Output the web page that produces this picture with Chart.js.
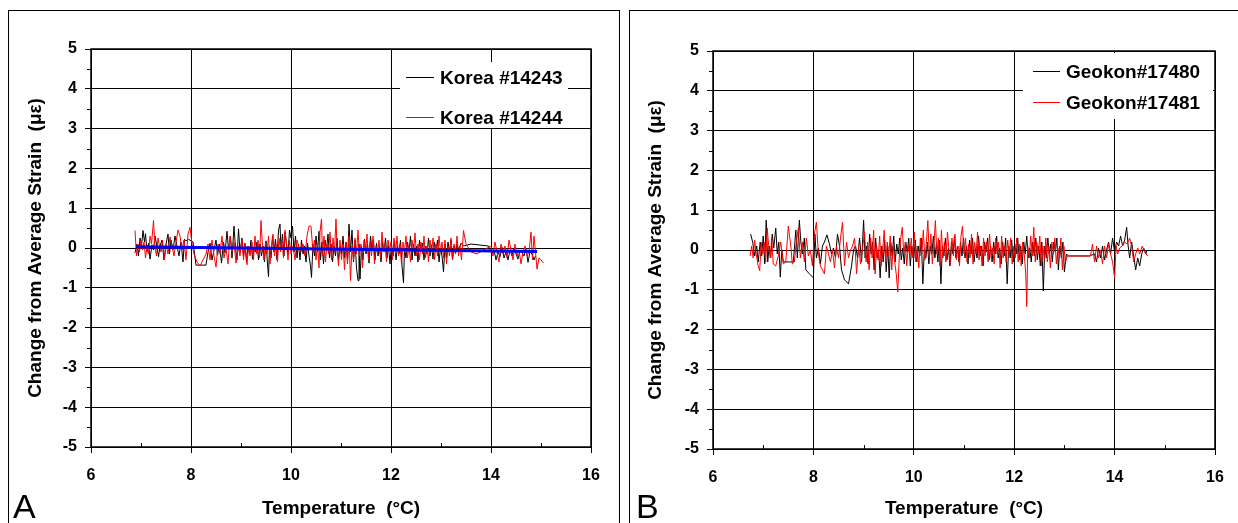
<!DOCTYPE html>
<html>
<head>
<meta charset="utf-8">
<script src="https://cdn.jsdelivr.net/npm/chart.js@4.4.1/dist/chart.umd.min.js"></script>
<style>
  html, body { margin: 0; padding: 0; background: #fff; }
  body { width: 1238px; height: 523px; position: relative; overflow: hidden; font-family: "Liberation Sans", Arial, sans-serif; }
  .panel { position: absolute; top: 10px; height: 530px; border: 1px solid #000; box-sizing: border-box; }
  #panelA { left: 8px; width: 612px; }
  #panelB { left: 629px; width: 612px; }
  .wrap { position: absolute; top: 0; height: 523px; }
  #wrapA { left: 0; width: 620px; }
  #wrapB { left: 620px; width: 618px; }
  .tag { position: absolute; font-size: 34px; line-height: 34px; color: #000; }
</style>
</head>
<body>
<div class="panel" id="panelA"></div>
<div class="panel" id="panelB"></div>
<div class="wrap" id="wrapA"><canvas id="chartA"></canvas></div>
<div class="wrap" id="wrapB"><canvas id="chartB"></canvas></div>
<div class="tag" style="left:13px; top:489px;">A</div>
<div class="tag" style="left:636px; top:489px;">B</div>
<script>
// axis ranges (same on both panels)
const tempRange = [6, 16];
const strainRange = [-5, 5];

// Panel A: [temperature °C, change in strain µε]
const korea14243 = [
  [6.88,-0.12],[6.92,0.1],[6.95,-0.2],[6.98,0.25],[7.01,0.05],[7.04,0.44],[7.07,0.15],[7.09,0.36],[7.12,-0.1],[7.15,0.12],
  [7.18,-0.28],[7.22,0.08],[7.25,-0.05],[7.28,0.3],[7.31,0.1],[7.35,-0.22],[7.38,0.05],[7.42,0.2],[7.46,-0.3],[7.5,0.1],
  [7.54,0.35],[7.57,-0.15],[7.6,0.2],[7.64,-0.05],[7.68,0.3],[7.72,0.05],[7.76,-0.2],[7.8,0.15],[7.84,-0.35],[7.87,0.22],
  [7.9,0.18],[7.95,0.22],[8.04,0.15],[8.1,-0.43],[8.3,-0.43],[8.34,-0.1],
  [8.38,0.12],[8.42,-0.3],[8.46,-0.05],[8.5,0.2],[8.53,-0.18],[8.57,0.1],[8.61,-0.38],[8.65,0.15],[8.68,-0.12],[8.72,0.42],
  [8.75,-0.05],[8.79,0.3],[8.82,-0.25],[8.86,0.55],[8.89,0.0],[8.92,-0.3],[8.95,0.48],[8.98,-0.1],[9.02,0.25],[9.05,-0.2],
  [9.08,0.12],[9.11,-0.35],[9.14,0.05],[9.17,-0.15],[9.2,0.2],[9.23,-0.28],[9.26,0.0],[9.29,-0.1],[9.32,0.15],[9.35,-0.3],
  [9.38,0.1],[9.41,-0.2],[9.44,0.05],[9.47,-0.35],[9.5,0.18],[9.53,-0.4],[9.55,-0.72],[9.57,0.05],[9.6,-0.25],[9.63,0.3],
  [9.66,-0.1],[9.69,0.22],[9.72,-0.3],[9.75,0.45],[9.78,0.6],[9.8,-0.05],[9.83,0.35],[9.86,-0.2],[9.88,0.4],[9.91,0.1],
  [9.94,-0.15],[9.97,0.45],[10.0,0.25],[10.03,0.55],[10.06,-0.1],
  [10.09,0.3],[10.12,-0.25],[10.15,0.1],[10.18,-0.3],[10.21,0.2],[10.24,-0.15],[10.27,0.05],[10.3,-0.35],[10.33,0.12],[10.36,-0.2],
  [10.39,-0.45],[10.41,-0.74],[10.44,0.1],[10.47,-0.2],[10.5,0.3],[10.53,-0.1],[10.56,0.42],[10.59,-0.3],[10.62,0.15],[10.65,-0.4],
  [10.68,0.2],[10.71,-0.05],[10.74,0.35],[10.77,-0.25],[10.8,0.1],[10.83,-0.35],[10.86,0.05],[10.89,-0.2],[10.92,0.25],[10.95,-0.3],
  [10.98,0.02],[11.01,-0.15],[11.04,0.3],[11.07,-0.25],
  [11.1,0.15],[11.13,-0.3],[11.16,0.6],[11.19,-0.1],[11.22,0.45],[11.25,-0.35],[11.28,0.2],[11.31,-0.5],[11.34,-0.82],[11.36,0.1],
  [11.38,-0.78],[11.41,0.05],[11.44,-0.3],[11.47,0.22],[11.5,-0.15],[11.53,0.1],[11.56,-0.38],[11.59,0.3],[11.62,-0.05],[11.65,0.2],
  [11.68,-0.3],[11.71,0.12],[11.74,-0.2],[11.77,0.05],[11.8,-0.35],[11.83,0.15],[11.86,-0.1],[11.89,0.25],[11.92,-0.25],[11.95,0.05],
  [11.98,-0.4],[12.01,0.1],[12.04,-0.2],[12.07,0.18],
  [12.1,-0.3],[12.13,0.05],[12.16,-0.15],[12.19,0.2],[12.22,-0.45],[12.25,-0.88],[12.27,0.0],[12.3,-0.25],[12.33,0.15],[12.36,-0.1],
  [12.39,0.3],[12.42,-0.3],[12.45,0.1],[12.48,-0.2],[12.51,0.05],[12.54,-0.35],[12.57,0.2],[12.6,-0.1],[12.63,0.12],[12.66,-0.3],
  [12.69,0.05],[12.72,-0.15],[12.75,0.25],[12.78,-0.2],[12.81,0.08],[12.84,-0.28],[12.87,0.15],[12.9,-0.1],[12.93,0.2],[12.96,-0.35],
  [12.99,0.0],[13.02,-0.2],[13.05,-0.6],[13.08,0.1],[13.11,-0.25],[13.14,0.15],[13.17,-0.1],[13.2,0.2],[13.23,-0.3],[13.26,0.05],
  [13.29,-0.15],[13.32,0.1],[13.35,-0.05],[13.4,0.12],[13.45,0.05],
  [13.6,0.1],[13.95,0.05],[14.02,-0.15],
  [14.06,-0.05],[14.1,-0.3],[14.14,-0.1],[14.18,-0.22],[14.22,0.02],[14.26,-0.25],[14.3,-0.1],[14.34,-0.3],[14.38,-0.05],[14.42,-0.2],
  [14.46,0.0],[14.5,-0.15],[14.54,-0.28],[14.58,-0.05],[14.62,-0.12],[14.66,-0.2],[14.7,0.0],[14.74,-0.36],[14.78,-0.1],[14.82,-0.15],
  [14.86,-0.3],[14.89,-0.2]
];

const korea14244 = [
  [6.88,0.44],[6.91,-0.2],[6.94,0.1],[6.97,-0.1],[7.0,0.2],[7.03,-0.05],[7.06,0.15],[7.09,-0.25],[7.12,0.05],[7.15,-0.15],
  [7.18,0.3],[7.21,0.1],[7.25,0.69],[7.28,0.0],[7.31,-0.2],[7.34,0.25],[7.37,0.05],[7.4,-0.1],[7.43,0.2],[7.47,-0.3],
  [7.5,0.1],[7.54,-0.15],[7.58,0.28],[7.62,0.05],[7.66,-0.2],[7.7,0.15],[7.74,0.45],[7.78,0.3],[7.82,-0.05],[7.86,0.2],
  [7.9,-0.3],[7.94,0.35],[7.98,0.52],[8.02,0.1],
  [8.06,-0.15],[8.12,-0.35],[8.18,-0.45],[8.24,-0.3],[8.3,-0.15],[8.34,0.1],[8.38,-0.3],[8.42,0.2],[8.46,-0.2],[8.5,-0.48],
  [8.54,0.1],[8.58,-0.15],[8.62,0.3],[8.66,-0.25],[8.7,0.0],[8.74,-0.4],[8.78,0.3],[8.82,-0.1],[8.86,0.15],[8.9,-0.38],
  [8.94,0.05],[8.98,-0.2],
  [9.02,0.22],[9.05,-0.3],[9.08,0.1],[9.12,-0.42],[9.15,0.05],[9.18,-0.2],[9.22,0.15],[9.25,-0.3],[9.28,0.3],[9.31,-0.15],
  [9.34,0.2],[9.37,-0.25],[9.4,0.69],[9.43,0.05],[9.46,-0.3],[9.49,0.12],[9.52,-0.15],[9.55,0.3],[9.58,-0.4],[9.61,0.0],
  [9.64,0.35],[9.67,-0.2],[9.7,0.1],[9.73,-0.35],[9.76,0.25],[9.79,-0.1],[9.82,0.15],[9.85,-0.25],[9.88,0.45],[9.91,0.1],
  [9.94,-0.3],[9.97,0.2],[10.0,-0.15],
  [10.04,0.05],[10.08,-0.3],[10.12,0.2],[10.16,0.0],[10.2,-0.1],[10.24,0.1],[10.28,-0.2],[10.32,0.3],[10.36,0.55],[10.4,0.55],
  [10.44,-0.1],[10.47,0.2],[10.5,-0.3],[10.53,0.12],[10.56,-0.5],[10.58,0.4],[10.61,0.73],[10.63,-0.2],[10.66,0.3],[10.69,-0.35],
  [10.72,0.1],[10.75,-0.15],[10.78,0.4],[10.81,-0.3],[10.84,0.25],[10.87,-0.1],[10.9,0.73],[10.92,0.0],[10.95,-0.45],[10.98,0.2],
  [11.01,-0.3],[11.04,0.1],[11.07,-0.55],
  [11.1,0.15],[11.13,-0.4],[11.16,0.3],[11.19,-0.82],[11.22,0.05],[11.25,-0.3],[11.28,0.25],[11.31,-0.15],[11.34,0.45],[11.37,-0.2],
  [11.4,0.1],[11.43,-0.5],[11.46,0.2],[11.49,-0.1],[11.52,0.35],[11.55,-0.3],[11.58,0.15],[11.61,-0.2],[11.64,0.3],[11.67,-0.4],
  [11.7,0.05],[11.73,-0.15],[11.76,0.2],[11.79,-0.25],[11.82,0.4],[11.85,-0.1],[11.88,0.1],[11.91,-0.35],[11.94,0.2],[11.97,-0.05],
  [12.0,0.15],
  [12.03,-0.3],[12.06,0.25],[12.09,-0.15],[12.12,0.3],[12.15,-0.2],[12.18,0.1],[12.21,-0.4],[12.24,0.15],[12.27,-0.1],[12.3,0.3],
  [12.33,-0.25],[12.36,0.05],[12.39,-0.35],[12.42,0.2],[12.45,-0.1],[12.48,0.38],[12.51,-0.2],[12.54,0.1],[12.57,-0.3],[12.6,0.15],
  [12.63,-0.15],[12.66,0.3],[12.69,-0.25],[12.72,0.05],[12.75,-0.35],[12.78,0.2],[12.81,-0.1],[12.84,0.25],[12.87,-0.3],[12.9,0.1],
  [12.93,-0.2],[12.96,0.3],[12.99,-0.1],[13.02,0.15],[13.05,-0.25],[13.08,0.2],[13.11,-0.4],[13.14,0.05],[13.17,-0.2],[13.2,0.25],
  [13.23,-0.3],[13.26,0.1],[13.29,-0.15],[13.32,0.3],[13.35,-0.2],[13.38,0.05],[13.41,-0.3],[13.45,0.44],[13.5,0.1],
  [13.6,-0.1],[13.72,-0.15],[13.85,-0.05],[14.0,0.05],
  [14.04,-0.2],[14.08,0.15],[14.12,-0.1],[14.16,-0.35],[14.2,0.1],[14.24,-0.15],[14.28,0.05],[14.32,-0.25],[14.36,0.2],[14.4,-0.05],
  [14.44,-0.3],[14.48,0.1],[14.52,-0.2],[14.56,-0.05],[14.6,-0.4],[14.64,-0.1],[14.68,0.05],[14.72,-0.2],[14.76,-0.1],[14.8,0.4],
  [14.83,-0.3],[14.86,0.3],[14.89,-0.1],[14.92,-0.53],[14.96,-0.25],[15.0,-0.3],[15.05,-0.38]
];

// blue trend line on panel A
const koreaTrend = [[6.9,0.03],[14.92,-0.09]];

// Panel B
const geokon17480 = [
  [6.75,0.4],[6.79,0.2],[6.83,-0.15],[6.87,0.1],[6.9,-0.3],[6.94,0.2],[6.97,-0.15],[7.0,0.35],[7.03,-0.35],[7.06,0.75],
  [7.09,-0.3],[7.12,0.1],[7.15,-0.2],[7.18,0.4],[7.21,0.05],[7.25,0.55],[7.28,-0.1],[7.31,0.2],[7.34,-0.68],[7.37,0.0],
  [7.4,-0.3],[7.45,-0.3],[7.52,-0.3],[7.6,-0.3],[7.65,0.5],[7.68,-0.2],[7.72,0.75],[7.75,0.2],[7.78,-0.1],[7.82,0.3],
  [7.85,-0.5],[7.92,-0.6],[8.0,-0.7],[8.03,0.4],[8.06,-0.2],
  [8.1,0.05],[8.14,-0.35],[8.18,0.1],[8.22,0.2],[8.27,0.38],[8.32,0.15],[8.36,-0.1],[8.4,0.05],[8.44,-0.2],[8.48,0.4],
  [8.52,0.1],[8.56,-0.5],[8.62,-0.75],[8.7,-0.85],[8.76,-0.4],[8.8,0.0],[8.84,0.1],[8.88,-0.2],[8.92,0.3],[8.96,-0.3],
  [9.0,0.75],[9.03,-0.2],[9.06,0.1],
  [9.09,-0.35],[9.12,0.4],[9.15,-0.1],[9.18,0.2],[9.21,-0.5],[9.24,0.3],[9.27,-0.2],[9.3,0.0],[9.33,-0.7],[9.36,0.1],
  [9.39,-0.3],[9.42,0.25],[9.45,-0.55],[9.48,0.1],[9.51,-0.7],[9.54,0.2],[9.57,-0.15],[9.6,0.35],[9.63,-0.3],[9.66,0.15],
  [9.69,-0.1],[9.72,0.3],[9.75,-0.25],[9.78,0.05],[9.81,-0.35],[9.84,0.2],[9.87,-0.05],[9.9,0.3],[9.93,-0.4],[9.96,0.1],
  [10.0,-0.2],
  [10.03,0.25],[10.06,-0.3],[10.09,0.1],[10.12,-0.15],[10.15,0.3],[10.18,-0.85],[10.21,0.0],[10.24,-0.2],[10.27,0.2],[10.3,-0.35],
  [10.33,0.1],[10.36,-0.1],[10.39,0.35],[10.42,-0.2],[10.45,0.15],[10.48,-0.3],[10.51,0.25],[10.54,-0.85],[10.57,0.1],[10.6,-0.15],
  [10.63,0.3],[10.66,-0.25],[10.69,0.05],[10.72,-0.4],[10.75,0.2],[10.78,-0.1],[10.81,0.35],[10.84,-0.2],[10.87,0.1],[10.9,-0.3],
  [10.93,0.2],[10.96,-0.15],[10.99,0.3],
  [11.02,-0.2],[11.05,0.1],[11.08,-0.35],[11.11,0.25],[11.14,-0.1],[11.17,0.3],[11.2,-0.3],[11.23,0.05],[11.26,-0.2],[11.29,0.35],
  [11.32,-0.15],[11.35,0.1],[11.38,-0.4],[11.41,0.2],[11.44,-0.05],[11.47,0.3],[11.5,-0.25],[11.53,0.1],[11.56,-0.3],[11.59,0.2],
  [11.62,-0.1],[11.65,0.35],[11.68,-0.2],[11.71,0.05],[11.74,-0.35],[11.77,0.2],[11.8,-0.15],[11.83,0.3],[11.86,-0.85],[11.89,0.1],
  [11.92,-0.2],[11.95,0.25],[11.98,-0.3],
  [12.01,0.15],[12.04,-0.1],[12.07,0.3],[12.1,-0.25],[12.13,0.1],[12.16,-0.35],[12.19,0.2],[12.22,-0.1],[12.25,0.35],[12.28,-0.2],
  [12.31,0.05],[12.34,-0.3],[12.37,0.2],[12.4,-0.15],[12.43,0.3],[12.46,-0.25],[12.49,0.1],[12.52,-0.4],[12.55,0.2],[12.58,-1.03],
  [12.61,0.1],[12.64,-0.2],[12.67,0.3],[12.7,-0.1],[12.73,0.15],[12.76,-0.3],[12.79,0.2],[12.82,-0.05],[12.85,0.3],[12.88,-0.5],
  [12.91,0.1],[12.94,-0.2],[12.97,0.2],[13.0,-0.55],[13.04,-0.1],[13.08,-0.15],
  [13.2,-0.15],[13.5,-0.15],
  [13.6,-0.1],[13.64,-0.3],[13.68,0.05],[13.72,-0.2],[13.76,0.1],[13.8,-0.25],[13.84,0.0],[13.88,0.2],[13.92,-0.1],[13.96,0.3],
  [14.0,-0.05],[14.04,0.2],[14.08,0.1],[14.12,0.35],[14.16,0.1],[14.2,0.25],[14.24,0.57],[14.27,0.1],[14.3,-0.2],[14.34,0.2],
  [14.38,-0.15],[14.42,-0.5],[14.46,-0.2],[14.5,-0.4],[14.54,-0.1],[14.58,0.05],[14.62,-0.1],[14.65,0.0]
];

const geokon17481 = [
  [6.74,-0.15],[6.77,0.1],[6.8,-0.2],[6.83,0.25],[6.86,-0.1],[6.9,-0.4],[6.93,-0.52],[6.96,0.2],[6.99,-0.1],[7.02,0.2],
  [7.05,-0.3],[7.08,0.55],[7.11,0.1],[7.14,-0.2],[7.17,0.3],[7.2,-0.35],[7.25,-0.4],[7.3,-0.15],[7.35,0.2],[7.4,-0.35],
  [7.45,-0.3],[7.5,0.6],[7.55,0.1],[7.58,-0.35],[7.62,-0.3],[7.66,0.2],[7.7,0.55],[7.74,-0.2],[7.78,0.2],[7.82,-0.3],
  [7.86,0.3],[7.9,-0.15],[7.94,0.0],[7.98,-0.4],[8.02,0.4],[8.06,0.7],[8.1,-0.1],
  [8.14,-0.4],[8.18,-0.5],[8.22,-0.6],[8.26,0.1],[8.3,-0.1],[8.34,-0.3],[8.38,0.0],[8.42,-0.45],[8.46,0.1],[8.5,-0.2],
  [8.54,0.3],[8.58,0.7],[8.62,-0.4],[8.66,0.2],[8.7,-0.2],[8.74,0.0],[8.78,0.1],[8.82,0.3],[8.86,-0.6],[8.9,0.1],
  [8.94,-0.35],[8.98,0.05],
  [9.02,0.45],[9.05,-0.3],[9.08,0.2],[9.11,-0.5],[9.14,0.3],[9.17,-0.2],[9.2,0.5],[9.23,-0.6],[9.26,0.1],[9.29,-0.25],
  [9.32,0.35],[9.35,-0.4],[9.38,0.0],[9.41,0.5],[9.44,-0.3],[9.47,0.2],[9.5,-0.15],[9.53,0.35],[9.56,-0.5],[9.59,0.1],
  [9.62,-0.3],[9.65,-0.6],[9.68,-1.06],[9.71,-0.2],[9.74,0.3],[9.77,0.57],[9.8,-0.1],[9.83,0.2],[9.86,-0.4],[9.89,0.1],
  [9.92,-0.15],[9.95,0.3],[9.98,-0.2],
  [10.01,0.45],[10.04,-0.3],[10.07,0.1],[10.1,-0.45],[10.13,0.3],[10.16,-0.1],[10.19,0.5],[10.22,-0.25],[10.25,0.2],[10.28,0.74],
  [10.31,-0.2],[10.34,0.4],[10.37,-0.35],[10.4,0.1],[10.43,0.74],[10.46,-0.1],[10.49,0.3],[10.52,-0.4],[10.55,0.5],[10.58,-0.2],
  [10.61,0.2],[10.64,-0.3],[10.67,0.45],[10.7,0.0],[10.73,-0.35],[10.76,0.3],[10.79,-0.15],[10.82,0.4],[10.85,-0.25],[10.88,0.1],
  [10.91,-0.4],[10.94,0.35],[10.97,0.6],[11.0,-0.1],
  [11.03,0.3],[11.06,-0.3],[11.09,0.15],[11.12,-0.2],[11.15,0.4],[11.18,-0.35],[11.21,0.2],[11.24,-0.1],[11.27,0.45],[11.3,-0.25],
  [11.33,0.1],[11.36,-0.4],[11.39,0.3],[11.42,-0.15],[11.45,0.2],[11.48,-0.3],[11.51,0.4],[11.54,-0.2],[11.57,0.05],[11.6,-0.35],
  [11.63,0.3],[11.66,-0.1],[11.69,0.2],[11.72,-0.45],[11.75,0.35],[11.78,-0.2],[11.81,0.1],[11.84,-0.3],[11.87,0.25],[11.9,-0.15],
  [11.93,0.3],[11.96,-0.35],[11.99,0.1],
  [12.02,-0.2],[12.05,0.3],[12.08,-0.3],[12.11,0.15],[12.14,-0.4],[12.17,0.2],[12.2,-0.1],[12.23,-0.6],[12.25,-1.42],[12.27,0.1],
  [12.3,-0.2],[12.33,0.35],[12.36,-0.15],[12.39,0.57],[12.42,-0.3],[12.45,0.2],[12.48,-0.1],[12.51,0.35],[12.54,-0.4],[12.57,0.1],
  [12.6,-0.25],[12.63,0.3],[12.66,-0.3],[12.69,0.1],[12.72,-0.45],[12.75,0.2],[12.78,-0.1],[12.81,0.3],[12.84,-0.35],[12.87,0.05],
  [12.9,-0.2],[12.93,0.3],[12.96,-0.5],[12.99,0.1],[13.02,-0.3],[13.06,-0.15],
  [13.3,-0.15],[13.52,-0.15],
  [13.56,0.15],[13.6,-0.3],[13.64,0.1],[13.68,-0.2],[13.72,0.0],[13.76,-0.35],[13.8,0.1],[13.84,-0.2],[13.88,0.15],[13.92,-0.1],
  [13.96,-0.3],[14.0,-0.7],[14.03,0.1],[14.06,-0.1],[14.1,0.05],[14.15,0.1],[14.2,0.2],[14.25,0.15],[14.3,0.3],[14.34,0.1],
  [14.38,-0.3],[14.42,-0.1],[14.46,0.05],[14.5,-0.1],[14.55,0.1],[14.6,-0.05],[14.66,-0.15]
];

const FONT = '"Liberation Sans", Arial, sans-serif';
const RED = 'rgb(255,0,0)';
const toXY = arr => arr.map(p => ({ x: p[0], y: p[1] }));

function series(label, data, color, width, order) {
  return {
    label: label, data: toXY(data), borderColor: color, backgroundColor: color,
    borderWidth: width, pointRadius: 0, tension: 0, fill: false, order: order
  };
}

// frame, minor ticks and the boxed legend inside the plot
const panelDecor = {
  id: 'panelDecor',
  afterDraw(chart, args, opts) {
    const ctx = chart.ctx;
    const a = chart.chartArea;
    const xs = chart.scales.x, ys = chart.scales.y;
    ctx.save();
    ctx.strokeStyle = '#000';
    ctx.lineWidth = 1;
    ctx.beginPath();
    for (let v = strainRange[0] + 0.5; v < strainRange[1]; v += 1) {
      const y = Math.round(ys.getPixelForValue(v)) + 0.5;
      ctx.moveTo(a.left - 4, y); ctx.lineTo(a.left, y);
    }
    for (let v = tempRange[0] + 1; v < tempRange[1]; v += 2) {
      const x = Math.round(xs.getPixelForValue(v)) + 0.5;
      ctx.moveTo(x, a.bottom); ctx.lineTo(x, a.bottom - 4);
    }
    ctx.stroke();
    ctx.lineWidth = 1.5;
    ctx.strokeRect(a.left, a.top, a.right - a.left, a.bottom - a.top);

    const lg = opts.legend;
    ctx.fillStyle = '#fff';
    ctx.fillRect(a.left + lg.x, a.top + lg.y, lg.w, lg.h);
    ctx.font = 'bold 19px ' + FONT;
    ctx.textBaseline = 'middle';
    ctx.textAlign = 'left';
    lg.items.forEach((it, i) => {
      const y = Math.round(a.top + lg.rows[i]) + 0.5;
      ctx.beginPath();
      ctx.strokeStyle = it.color;
      ctx.lineWidth = 1;
      ctx.moveTo(a.left + lg.line[0], y);
      ctx.lineTo(a.left + lg.line[1], y);
      ctx.stroke();
      ctx.fillStyle = '#000';
      ctx.fillText(it.text, a.left + lg.textX, y + 1);
    });
    ctx.restore();
  }
};

function makePanel(id, datasets, cfg) {
  return new Chart(document.getElementById(id), {
    type: 'line',
    data: { datasets: datasets },
    plugins: [panelDecor],
    options: {
      responsive: true,
      maintainAspectRatio: false,
      animation: false,
      layout: { padding: { left: 0, top: cfg.top, right: cfg.right, bottom: 0 } },
      plugins: {
        legend: { display: false },
        tooltip: { enabled: false },
        panelDecor: { legend: cfg.legend }
      },
      scales: {
        x: {
          type: 'linear', min: tempRange[0], max: tempRange[1],
          afterFit: s => { s.height = cfg.xHeight; },
          ticks: { stepSize: 2, color: '#000', padding: 13, maxRotation: 0, font: { family: FONT, size: 16, weight: 'bold' } },
          grid: { color: '#000', lineWidth: 1, tickLength: 6 },
          border: { display: false },
          title: { display: true, text: 'Temperature  (°C)', color: '#000', padding: { top: 0, bottom: 3 },
                   font: { family: FONT, size: 19, weight: 'bold' } }
        },
        y: {
          type: 'linear', min: strainRange[0], max: strainRange[1],
          afterFit: s => { s.width = cfg.yWidth; },
          ticks: { stepSize: 1, color: '#000', padding: 8, font: { family: FONT, size: 16, weight: 'bold' } },
          grid: { color: '#000', lineWidth: 1, tickLength: 6 },
          border: { display: false },
          title: { display: true, text: 'Change from Average Strain  (με)', color: '#000', padding: { top: 24, bottom: 0 },
                   font: { family: FONT, size: 19, weight: 'bold' } }
        }
      }
    }
  });
}

makePanel('chartA', [
  series('Korea #14243', korea14243, '#000000', 1, 3),
  series('Korea #14244', korea14244, RED, 1, 2),
  series('fit', koreaTrend, '#0000ff', 3, 1)
], {
  top: 49, right: 29, xHeight: 76, yWidth: 91,
  legend: { x: 309, y: 13, w: 168, h: 66, rows: [28, 68], line: [315, 343], textX: 349,
            items: [{ text: 'Korea #14243', color: '#000' }, { text: 'Korea #14244', color: RED }] }
});

makePanel('chartB', [
  series('Geokon#17480', geokon17480, '#000000', 1, 3),
  series('Geokon#17481', geokon17481, RED, 1, 2)
], {
  top: 51, right: 23, xHeight: 74, yWidth: 93,
  legend: { x: 310, y: 2, w: 190, h: 66, rows: [20, 51], line: [320, 347], textX: 353,
            items: [{ text: 'Geokon#17480', color: '#000' }, { text: 'Geokon#17481', color: RED }] }
});
</script>
</body>
</html>
